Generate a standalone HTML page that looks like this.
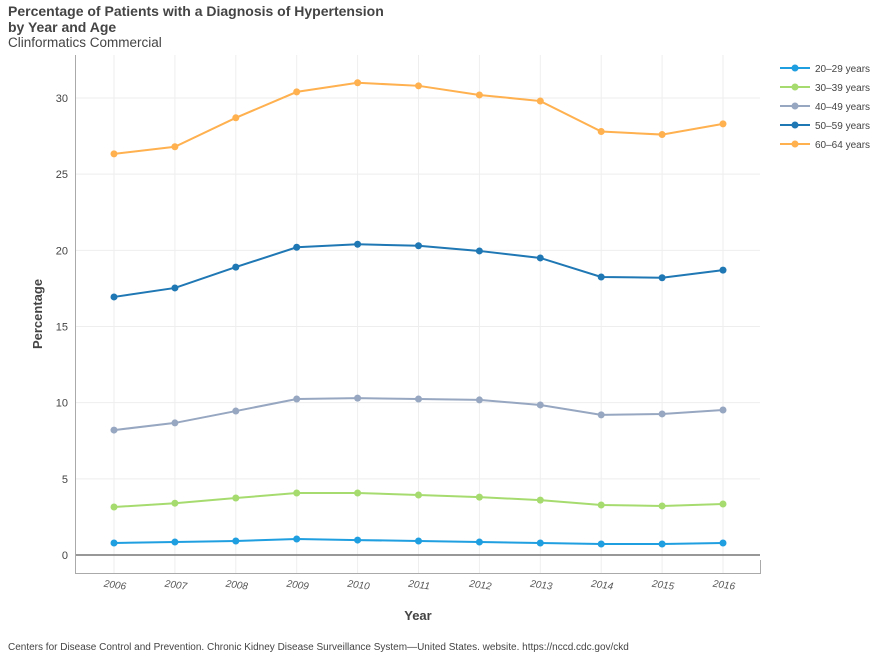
<!DOCTYPE html>
<html><head><meta charset="utf-8"><style>
body{margin:0;background:#fff;font-family:"Liberation Sans",Arial,sans-serif;}
svg text{font-family:"Liberation Sans",Arial,sans-serif;}
</style></head><body>
<svg id="chart" width="892" height="660" xmlns="http://www.w3.org/2000/svg">
<text x="8" y="16" font-size="14" font-weight="bold" fill="#444">Percentage of Patients with a Diagnosis of Hypertension</text>
<text x="8" y="32" font-size="14" font-weight="bold" fill="#444">by Year and Age</text>
<text x="8" y="47" font-size="13.5" fill="#444">Clinformatics Commercial</text>
<text x="8" y="650" font-size="10" fill="#444">Centers for Disease Control and Prevention. Chronic Kidney Disease Surveillance System—United States. website. https://nccd.cdc.gov/ckd</text>
<g id="grid"></g><g id="axes"></g><g id="series"></g><g id="legend"></g>
</svg>
<script>
const years=[2006,2007,2008,2009,2010,2011,2012,2013,2014,2015,2016];
const yTicks=[0,5,10,15,20,25,30];
const seriesNames=["20–29 years","30–39 years","40–49 years","50–59 years","60–64 years"];
const seriesColors=["#1f9ee0","#a6dc6f","#97a7c1","#1f77b4","#ffb04f"];
const s2029=[0.79,0.85,0.92,1.05,0.98,0.92,0.85,0.79,0.72,0.72,0.79];
const s3039=[3.15,3.4,3.74,4.07,4.07,3.94,3.8,3.6,3.28,3.22,3.35];
const s4049=[8.2,8.67,9.45,10.24,10.3,10.24,10.18,9.85,9.2,9.26,9.52];
const s5059=[16.94,17.53,18.9,20.2,20.4,20.3,19.96,19.5,18.25,18.2,18.7];
const s6064=[26.33,26.8,28.7,30.4,31.0,30.8,30.2,29.8,27.8,27.6,28.3];
const allSeries=[s2029,s3039,s4049,s5059,s6064];
const NS="http://www.w3.org/2000/svg";
const x=i=>114+i*(723-114)/(years.length-1);
const y=v=>555-v*(555-98)/30;
function mk(tag,attrs,parent){const e=document.createElementNS(NS,tag);for(const k in attrs)e.setAttribute(k,attrs[k]);parent.appendChild(e);return e;}
const grid=document.getElementById('grid'),axes=document.getElementById('axes'),ser=document.getElementById('series'),leg=document.getElementById('legend');
years.forEach((yr,i)=>{
  const l=mk('line',{x1:x(i),x2:x(i),y1:55,y2:573,stroke:'#eee'},grid);
  
  
  const t=mk('text',{x:x(i)-10,y:588,'font-size':10,fill:'#555','font-style':'italic',transform:`rotate(8 ${x(i)} 584)`},axes);
  t.textContent=yr;
  
  
});
yTicks.forEach(v=>{
  if(v>0){const l=mk('line',{x1:75,x2:760,y1:y(v),y2:y(v),stroke:'#eee'},grid);
  
  }
  const t=mk('text',{x:68,y:y(v)+4,'font-size':11,fill:'#444','text-anchor':'end'},axes);
  t.textContent=v;
  
  
});
const zl=mk('line',{x1:75,x2:760,y1:y(0),y2:y(0),stroke:'#777','stroke-width':1.5},axes);


const ab=mk('path',{d:'M75.5 55 V573.5 H760.5 V560',fill:'none',stroke:'#aaa'},axes);


const xt=mk('text',{x:418,y:620,'font-size':13,'font-weight':'bold',fill:'#444','text-anchor':'middle'},axes);
xt.textContent='Year';


const yt=mk('text',{x:0,y:0,'font-size':13,'font-weight':'bold',fill:'#444','text-anchor':'middle',transform:'translate(42 314) rotate(-90)'},axes);
yt.textContent='Percentage';


allSeries.forEach((d,si)=>{
  const g=mk('g',{},ser);
  
  
  const p=mk('polyline',{points:d.map((v,i)=>x(i)+','+y(v)).join(' '),fill:'none',stroke:seriesColors[si],'stroke-width':2},g);
  
  
  d.forEach((v,i)=>{const c=mk('circle',{cx:x(i),cy:y(v),r:3.5,fill:seriesColors[si]},g);
    
    });
  const ly=68+si*19;
  const lg=mk('g',{},leg);
  
  
  mk('line',{x1:780,x2:810,y1:ly,y2:ly,stroke:seriesColors[si],'stroke-width':2},lg);
  mk('circle',{cx:795,cy:ly,r:3.5,fill:seriesColors[si]},lg);
  const lt=mk('text',{x:815,y:ly+4,'font-size':10,fill:'#444'},lg);
  lt.textContent=seriesNames[si];
});
</script>
</body></html>
